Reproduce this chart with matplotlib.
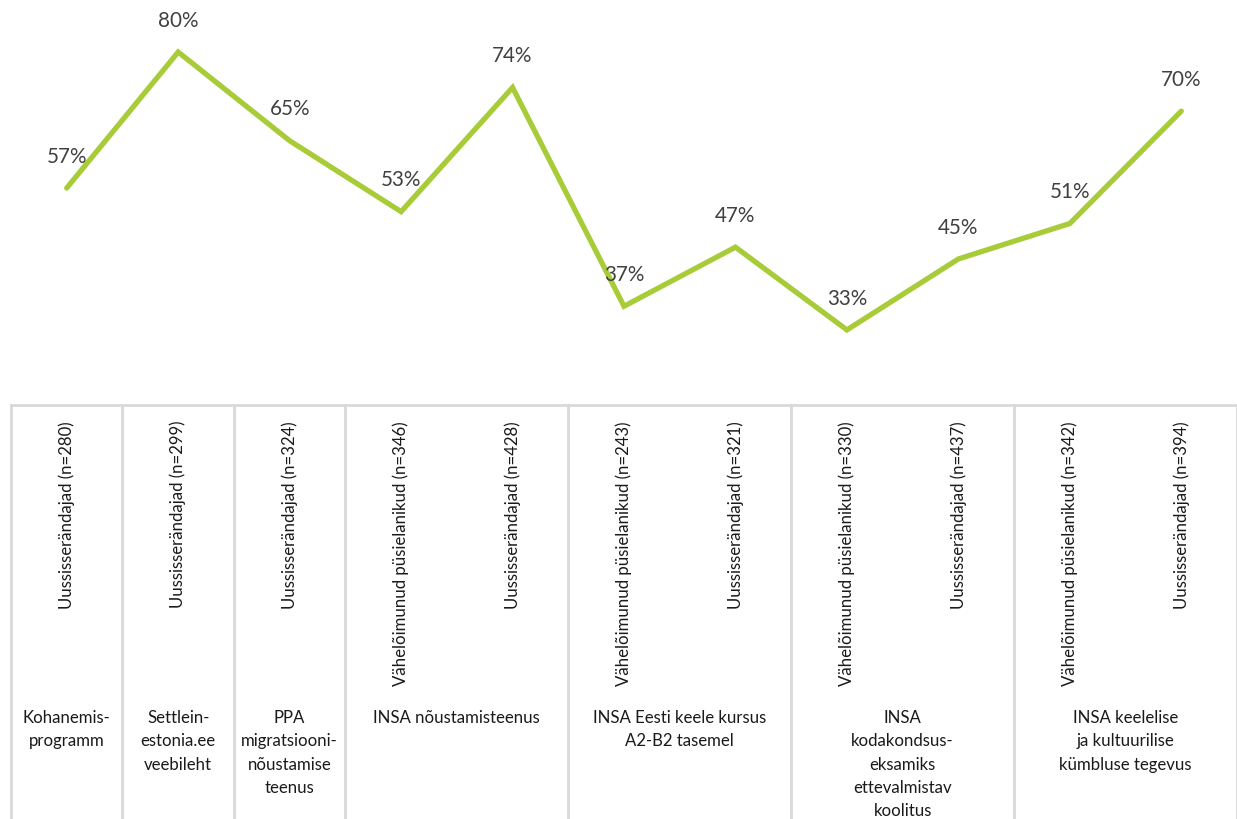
import matplotlib
matplotlib.use("Agg")
import matplotlib.pyplot as plt

plt.rcParams['font.family'] = ['Lato', 'DejaVu Sans']

# Share of respondents per service and target group (%)
values = [57, 80, 65, 53, 74, 37, 47, 33, 45, 51, 70]

sub_labels = [
    "Uussisserändajad (n=280)",
    "Uussisserändajad (n=299)",
    "Uussisserändajad (n=324)",
    "Vähelõimunud püsielanikud (n=346)",
    "Uussisserändajad (n=428)",
    "Vähelõimunud püsielanikud (n=243)",
    "Uussisserändajad (n=321)",
    "Vähelõimunud püsielanikud (n=330)",
    "Uussisserändajad (n=437)",
    "Vähelõimunud püsielanikud (n=342)",
    "Uussisserändajad (n=394)",
]

group_labels = [
    "Kohanemis-\nprogramm",
    "Settlein-\nestonia.ee\nveebileht",
    "PPA\nmigratsiooni-\nnõustamise\nteenus",
    "INSA nõustamisteenus",
    "INSA Eesti keele kursus\nA2-B2 tasemel",
    "INSA\nkodakondsus-\neksamiks\nettevalmistav\nkoolitus",
    "INSA keelelise\nja kultuurilise\nkümbluse tegevus",
]
group_sizes = [1, 1, 1, 2, 2, 2, 2]

W, H = 1237, 819
fig = plt.figure(figsize=(W / 100, H / 100), dpi=100)

LINE_COLOR = "#A8CB38"
TEXT_COLOR = "#404040"
GRID_COLOR = "#D9D9D9"

x = list(range(len(values)))
left_px, axis_px = 11, 405

# line chart area
ax = fig.add_axes([left_px / W, (H - axis_px) / H, (W - left_px) / W, axis_px / H])
ax.plot(x, values, color=LINE_COLOR, lw=3.8, solid_joinstyle="miter", solid_capstyle="round")
ax.set_xlim(-0.5, len(values) - 0.5)
ax.set_ylim(20.3, 88.8)
for xi, v in zip(x, values):
    ax.annotate(f"{v}%", (xi, v), xytext=(0, 22.5), textcoords="offset points",
                ha="center", va="center", fontsize=14.9, color=TEXT_COLOR)
ax.axis("off")

# category table below the axis
tb = fig.add_axes([left_px / W, 0, (W - left_px) / W, (H - axis_px) / H])
tb.set_xlim(-0.5, len(values) - 0.5)
tb.set_ylim(H - axis_px, 0)
tb.axis("off")
tb.axhline(0, color=GRID_COLOR, lw=2, clip_on=False)

bounds = [-0.5]
for s in group_sizes:
    bounds.append(bounds[-1] + s)
for b in bounds:
    tb.plot([b, b], [0, H - axis_px], color=GRID_COLOR, lw=2, clip_on=False)

for xi, lab in zip(x, sub_labels):
    tb.text(xi, 16, lab, rotation=90, ha="center", va="top",
            fontsize=12.1, color="#1a1a1a")

for i, (lab, s) in enumerate(zip(group_labels, group_sizes)):
    center = (bounds[i] + bounds[i + 1]) / 2
    tb.text(center, 305, lab, ha="center", va="top", fontsize=12.1,
            color="#1a1a1a", linespacing=1.56)

fig.savefig("out.png", dpi=100)
